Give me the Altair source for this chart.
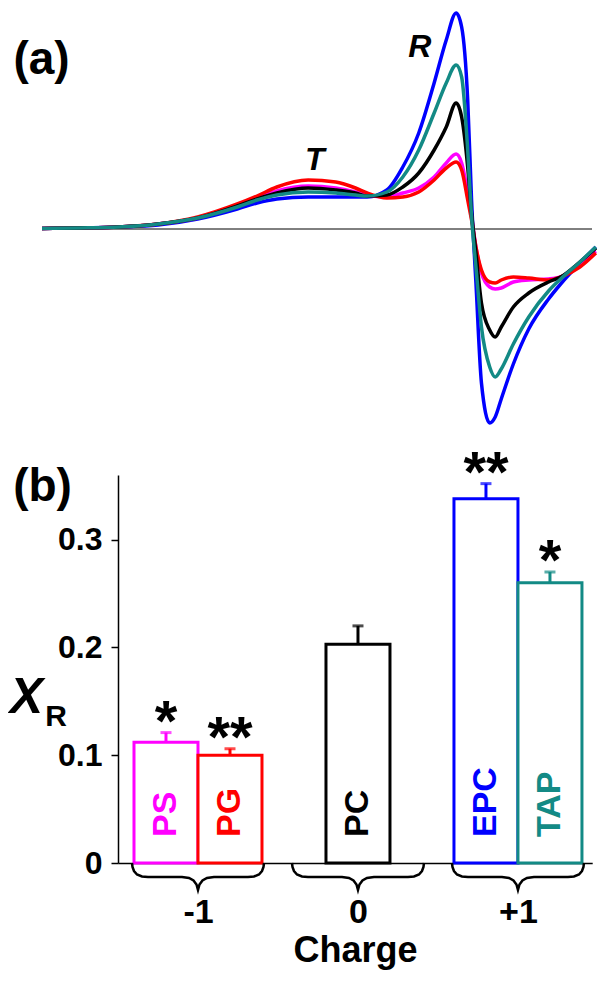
import altair as alt
import pandas as pd

# ---------------- data ----------------
# (a) spectra: magnetic-field position (arbitrary units) and signal amplitude
field = [0, 6.8, 14.0, 21.1, 28.3, 35.5, 39.1, 42.7, 48.4, 53.4, 57.0, 59.1, 62.7, 65.6,
         68.5, 71.3, 73.5, 75.3, 76.3, 77.4, 78.1, 78.9, 79.9, 81.4, 82.4, 83.5, 85.7,
         88.5, 92.1, 94.3, 97.8, 100.7]
sig_PS = [0.5, 1, 2, 5, 11, 24, 31, 38, 43, 41, 37, 34, 32, 36, 41, 52, 66, 75, 66, 36,
          12, -18, -44, -58, -60, -59, -53, -51, -50, -48, -34, -22]
sig_PG = [0.5, 1, 2, 5, 12, 25, 33, 42, 49, 47, 41, 36, 31, 32, 37, 49, 61, 67, 59, 29,
          9, -18, -41, -53, -54, -51, -48, -49, -51, -48, -38, -24]
sig_PC = [0.5, 1, 2, 5, 11, 23, 30, 36, 41, 39, 36, 33, 34, 42, 56, 79, 102, 126, 112, 62,
          16, -24, -74, -101, -108, -98, -78, -64, -53, -48, -33, -19]
sig_EPC = [0.5, 1, 2, 4, 10, 20, 26, 30, 32, 32, 32, 32, 39, 62, 96, 146, 189, 216, 202, 129,
           29, -54, -154, -194, -188, -170, -135, -100, -70, -55, -34, -18]
sig_TAP = [0.5, 1, 2, 5, 11, 22, 29, 34, 37, 36, 34, 33, 37, 52, 79, 116, 146, 164, 152, 79,
           12, -38, -98, -138, -148, -140, -115, -88, -62, -50, -33, -18]

# (b) bars
names = ["PS", "PG", "PC", "EPC", "TAP"]
colors = ["#FF00FF", "#FF0000", "#000000", "#0000FF", "#138A85"]
positions = [0, 1, 3, 5, 6]
xr_values = [0.112, 0.100, 0.203, 0.338, 0.260]
xr_errors = [0.009, 0.006, 0.017, 0.014, 0.010]
stars = ["*", "**", "", "**", "*"]
group_labels = ["-1", "0", "+1"]
group_centers = [0.5, 3.0, 5.5]
y_ticks = [0, 0.1, 0.2, 0.3]

FONT = "Liberation Sans"

# ---------------- panel (a) ----------------
spectra = {"PS": sig_PS, "PG": sig_PG, "PC": sig_PC, "EPC": sig_EPC, "TAP": sig_TAP}
rows = []
for n in names:
    for f, h in zip(field, spectra[n]):
        rows.append({"series": n, "field": f, "signal": h})
spec_df = pd.DataFrame(rows)

xs_top = alt.Scale(domain=[0, 101], range=[-76, 479.5], nice=False, zero=False)
ys_top = alt.Scale(domain=[-209, 221], range=[430, 0], nice=False, zero=False)
color_scale = alt.Scale(domain=names, range=colors)

baseline = alt.Chart(pd.DataFrame({"x0": [field[0]], "x1": [100], "y": [0]})).mark_rule(
    color="black", strokeWidth=1
).encode(
    x=alt.X("x0:Q", scale=xs_top, axis=None),
    x2="x1:Q",
    y=alt.Y("y:Q", scale=ys_top, axis=None),
)

draw_order = ["EPC", "PS", "PG", "PC", "TAP"]
line_layers = []
for n in draw_order:
    line_layers.append(
        alt.Chart(spec_df).transform_filter(alt.datum.series == n).mark_line(
            strokeWidth=3.5, interpolate="monotone"
        ).encode(
            x=alt.X("field:Q", scale=xs_top, axis=None),
            y=alt.Y("signal:Q", scale=ys_top, axis=None),
            color=alt.Color("series:N", scale=color_scale, legend=None),
        )
    )

peak_labels = alt.Chart(pd.DataFrame({"label": ["R", "T"], "field": [68.7, 49.6],
                                      "signal": [182, 69]})).mark_text(
    font=FONT, fontSize=32, fontWeight="bold", fontStyle="italic", color="black"
).encode(
    x=alt.X("field:Q", scale=xs_top, axis=None),
    y=alt.Y("signal:Q", scale=ys_top, axis=None),
    text="label:N",
)

top = alt.layer(baseline, *line_layers, peak_labels)

# ---------------- panel (b) ----------------
bar_df = pd.DataFrame({"name": names, "pos": positions, "value": xr_values,
                       "err": xr_errors, "star": stars})
bar_df["left"] = bar_df["pos"] - 0.5
bar_df["right"] = bar_df["pos"] + 0.5
bar_df["top"] = bar_df["value"] + bar_df["err"]
bar_df["zero"] = 0.0

xs_bot = alt.Scale(domain=[-0.75, 6.66], range=[0, 474.2], nice=False, zero=False)
ys_bot = alt.Scale(domain=[0, 0.36], range=[855, 467], nice=False, zero=False)

label_expr = ""
for c, g in zip(group_centers[:-1], group_labels[:-1]):
    label_expr += f"datum.value == {c} ? '{g}' : "
label_expr += f"'{group_labels[-1]}'"

x_axis = alt.Axis(values=group_centers, labelExpr=label_expr, ticks=False, grid=False,
                  domainColor="black", domainWidth=1.5, orient="bottom",
                  labelFont=FONT, labelFontSize=34, labelFontWeight="bold", labelColor="black",
                  labelPadding=32, labelFlush=False, labelOverlap=False,
                  title="Charge", titleFont=FONT, titleFontSize=36, titleFontWeight="bold",
                  titleColor="black", titlePadding=4)
y_axis = alt.Axis(values=y_ticks,
                  labelExpr="datum.value == 0 ? '0' : format(datum.value, '.1f')",
                  tickSize=7, tickWidth=1.5, tickColor="black", domainColor="black",
                  domainWidth=1.5, grid=False, orient="left",
                  labelFont=FONT, labelFontSize=32, labelFontWeight="bold", labelColor="black",
                  labelPadding=9, title=None)

base = alt.Chart(bar_df)

bars = base.mark_rect(fill="white", strokeWidth=3).encode(
    x=alt.X("left:Q", scale=xs_bot, axis=x_axis),
    x2="right:Q",
    y=alt.Y("value:Q", scale=ys_bot, axis=y_axis),
    y2="zero:Q",
    stroke=alt.Stroke("name:N", scale=color_scale, legend=None),
)

err_rule = base.mark_rule(strokeWidth=3).encode(
    x=alt.X("pos:Q", scale=xs_bot, axis=x_axis),
    y=alt.Y("value:Q", scale=ys_bot, axis=y_axis),
    y2="top:Q",
    color=alt.Color("name:N", scale=color_scale, legend=None),
)

err_cap = base.mark_tick(orient="horizontal", size=11, thickness=3).encode(
    x=alt.X("pos:Q", scale=xs_bot, axis=x_axis),
    y=alt.Y("top:Q", scale=ys_bot, axis=y_axis),
    color=alt.Color("name:N", scale=color_scale, legend=None),
)

star_text = base.transform_filter(alt.datum.star != "").mark_text(
    font=FONT, fontSize=58, fontWeight="bold", color="black", baseline="alphabetic", dy=8
).encode(
    x=alt.X("pos:Q", scale=xs_bot, axis=x_axis),
    y=alt.Y("top:Q", scale=ys_bot, axis=y_axis),
    text="star:N",
)

bar_names = base.mark_text(
    font=FONT, fontSize=34, fontWeight="bold", angle=270, align="left",
    baseline="middle", dx=26
).encode(
    x=alt.X("pos:Q", scale=xs_bot, axis=x_axis),
    y=alt.Y("zero:Q", scale=ys_bot, axis=y_axis),
    text="name:N",
    color=alt.Color("name:N", scale=color_scale, legend=None),
)

# curly braces under each charge group (shape template in pixels, converted to data units)
px_per_x = 474.2 / (6.66 + 0.75)
px_per_y = (855 - 467) / 0.36
hook = [(-66, 0), (-65.5, 4), (-64, 8), (-61, 11.5), (-56, 13.5), (-50, 14),
        (-16, 14), (-9, 15), (-4.5, 17.5), (-1.5, 21.5), (0, 27)]
template = hook + [(-dx, dy) for dx, dy in reversed(hook[:-1])]
brace_rows = []
for g, c in zip(group_labels, group_centers):
    for i, (dx, dy) in enumerate(template):
        brace_rows.append({"group": g, "order": i, "bx": c + dx / px_per_x,
                           "by": -dy / px_per_y})
brace_df = pd.DataFrame(brace_rows)
braces = alt.Chart(brace_df).mark_line(color="black", strokeWidth=2.5).encode(
    x=alt.X("bx:Q", scale=xs_bot, axis=x_axis),
    y=alt.Y("by:Q", scale=ys_bot, axis=y_axis),
    detail="group:N",
    order="order:Q",
)

def pix_text(txt, x, y, size, style="normal"):
    return alt.Chart(pd.DataFrame({"t": [txt]})).mark_text(
        font=FONT, fontSize=size, fontWeight="bold", fontStyle=style, color="black",
        align="center", baseline="middle"
    ).encode(x=alt.value(x), y=alt.value(y), text="t:N")

lab_a = pix_text("(a)", -76.5, 52, 46)
lab_b = pix_text("(b)", -75.5, 479, 46)
lab_X = pix_text("X", -91.5, 690, 50, "italic")
lab_R = pix_text("R", -62, 709, 30)

bottom = alt.layer(bars, err_rule, err_cap, star_text, bar_names, braces,
                   lab_a, lab_b, lab_X, lab_R)

chart = alt.layer(top, bottom).resolve_scale(
    x="independent", y="independent"
).properties(
    width=486, height=855,
    autosize=alt.AutoSizeParams(type="none"),
    padding={"left": 110, "top": 0, "right": 0, "bottom": 110},
).configure_view(strokeWidth=0)

chart.save("out.html", embed_options={"renderer": "svg", "actions": False})
